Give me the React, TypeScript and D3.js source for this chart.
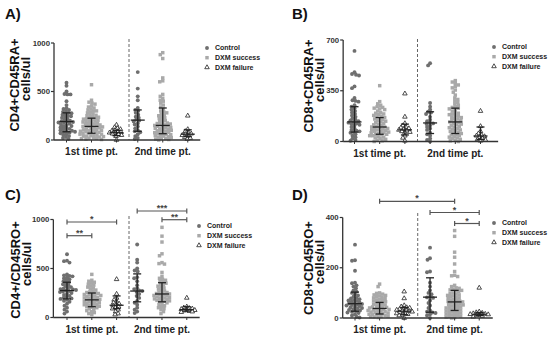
import * as d3 from "d3";

const GROUPS = ["Control", "DXM success", "DXM failure"];
const TIMEPOINTS = ["1st time pt.", "2nd time pt."];

// ---- A) CD4+CD45RA+ ----
const aTicks = [0, 500, 1000];
const aControl1 = [590, 560, 500, 475, 470, 470, 400, 360, 330, 320, 310, 300, 290, 280, 275, 270, 260, 250, 245, 240, 230, 220, 210, 200, 195, 190, 185, 180, 175, 170, 160, 150, 145, 140, 130, 120, 115, 110, 100, 95, 90, 85, 80, 75, 70, 60, 50, 40, 30, 20, 10];
const aSuccess1 = [570, 410, 390, 380, 370, 350, 340, 330, 320, 310, 300, 300, 290, 280, 270, 260, 255, 250, 240, 235, 230, 225, 220, 215, 210, 205, 200, 195, 190, 185, 180, 175, 170, 165, 160, 155, 150, 145, 140, 140, 135, 130, 125, 120, 115, 110, 105, 100, 100, 95, 90, 85, 80, 80, 75, 70, 65, 60, 60, 55, 50, 45, 40, 40, 35, 30, 25, 20, 20, 15, 10, 5];
const aFailure1 = [155, 130, 120, 110, 100, 95, 90, 80, 75, 70, 65, 60, 50, 40, 0];
const aControl2 = [700, 530, 450, 410, 330, 310, 300, 280, 260, 240, 230, 210, 200, 190, 170, 160, 140, 120, 100, 90, 80, 60, 40, 20, 10];
const aSuccess2 = [900, 880, 840, 640, 610, 600, 470, 450, 430, 410, 400, 380, 360, 340, 320, 300, 290, 280, 270, 260, 250, 240, 230, 220, 210, 200, 190, 180, 175, 170, 165, 160, 155, 150, 145, 140, 135, 130, 125, 120, 115, 110, 105, 100, 95, 90, 85, 80, 75, 70, 65, 60, 55, 50, 45, 40, 35, 30, 25, 20, 15, 10, 5, 0];
const aFailure2 = [250, 110, 90, 75, 65, 60, 50, 40, 30, 20, 10];
const aMedian = [190, 140, 75, 205, 150, 60];
const aQ1 = [85, 70, 45, 90, 65, 35];
const aQ3 = [280, 225, 100, 310, 330, 105];

// ---- B) CD8+CD45RA+ ----
const bTicks = [0, 350, 700];
const bControl1 = [625, 478, 465, 460, 455, 380, 368, 300, 285, 280, 275, 250, 240, 230, 220, 210, 200, 190, 180, 170, 160, 150, 145, 140, 135, 130, 125, 120, 115, 110, 100, 90, 80, 75, 70, 65, 60, 50, 40, 30, 20, 10, 5];
const bSuccess1 = [385, 275, 260, 250, 240, 235, 230, 225, 220, 210, 200, 195, 190, 185, 180, 175, 170, 165, 160, 155, 150, 145, 140, 135, 130, 125, 120, 115, 110, 105, 100, 100, 95, 90, 90, 85, 80, 80, 75, 70, 70, 65, 60, 60, 55, 50, 50, 45, 40, 40, 35, 30, 25, 20, 15, 10, 5, 0];
const bFailure1 = [330, 170, 125, 110, 100, 95, 90, 85, 80, 75, 70, 65, 60, 40, 25, 5];
const bControl2 = [540, 525, 265, 240, 220, 205, 200, 190, 170, 150, 140, 130, 125, 120, 110, 100, 90, 80, 60, 50, 40, 20, 10, 0];
const bSuccess2 = [420, 410, 400, 390, 380, 370, 355, 340, 320, 300, 290, 280, 270, 260, 250, 240, 235, 230, 225, 220, 210, 200, 195, 190, 185, 180, 175, 170, 165, 160, 155, 150, 145, 140, 135, 130, 125, 120, 115, 110, 105, 100, 95, 90, 85, 80, 75, 70, 65, 60, 55, 50, 45, 40, 35, 30, 25, 20, 15, 10, 5, 0];
const bFailure2 = [210, 105, 70, 55, 45, 40, 35, 30, 20, 15, 10, 5];
const bMedian = [135, 100, 80, 128, 135, 38];
const bQ1 = [65, 50, 45, 55, 55, 15];
const bQ3 = [240, 165, 120, 205, 230, 100];

// ---- C) CD4+/CD45RO+ ----
const cTicks = [0, 500, 1000];
const cControl1 = [645, 580, 575, 560, 440, 430, 425, 420, 410, 400, 390, 380, 370, 360, 350, 340, 330, 320, 310, 300, 295, 290, 285, 280, 275, 270, 265, 260, 250, 240, 230, 220, 210, 200, 195, 190, 180, 170, 160, 140, 120, 100, 80, 60, 40];
const cSuccess1 = [440, 380, 370, 360, 350, 340, 330, 320, 310, 300, 290, 280, 270, 260, 255, 250, 245, 240, 235, 230, 225, 220, 215, 210, 205, 200, 195, 190, 185, 180, 175, 170, 165, 160, 155, 150, 145, 140, 135, 130, 125, 120, 115, 110, 105, 100, 90, 80, 70, 60, 50, 40, 30];
const cFailure1 = [390, 240, 200, 180, 160, 150, 140, 130, 120, 110, 100, 90, 80, 60, 40, 30];
const cControl2 = [745, 590, 560, 500, 480, 470, 410, 400, 370, 330, 300, 290, 275, 270, 260, 240, 220, 200, 170, 150, 130, 100, 80, 60, 45];
const cSuccess2 = [920, 830, 770, 650, 630, 560, 550, 545, 460, 420, 400, 390, 380, 370, 360, 350, 340, 330, 320, 310, 300, 290, 280, 270, 260, 255, 250, 245, 240, 235, 230, 225, 220, 215, 210, 205, 200, 195, 190, 185, 180, 175, 170, 165, 160, 150, 140, 130, 120, 110, 100, 90, 80, 60, 40];
const cFailure2 = [200, 110, 100, 95, 90, 85, 80, 75, 70, 65, 60, 55];
const cMedian = [275, 180, 125, 270, 240, 80];
const cQ1 = [190, 110, 90, 160, 160, 65];
const cQ3 = [360, 250, 220, 445, 355, 110];
const cSigs = [
  { from: 0, to: 2, label: "*" },
  { from: 0, to: 1, label: "**" },
  { from: 3, to: 5, label: "***" },
  { from: 4, to: 5, label: "**" },
];

// ---- D) CD8+CD45RO+ ----
const dTicks = [0, 200, 400];
const dControl1 = [292, 230, 228, 188, 140, 138, 130, 125, 118, 110, 105, 100, 95, 90, 85, 80, 78, 75, 72, 70, 68, 65, 62, 60, 58, 56, 54, 52, 50, 48, 45, 42, 40, 38, 35, 32, 30, 28, 25, 22, 20, 15, 10, 5, 2];
const dSuccess1 = [135, 125, 100, 98, 95, 92, 90, 88, 85, 82, 80, 78, 75, 72, 70, 68, 65, 62, 60, 58, 55, 52, 50, 48, 46, 44, 42, 40, 38, 36, 35, 34, 32, 30, 28, 26, 25, 24, 22, 20, 18, 16, 15, 14, 12, 10, 8, 6, 5, 4, 2];
const dFailure1 = [105, 78, 50, 45, 42, 40, 38, 35, 32, 30, 28, 27, 25, 22, 20, 18, 15, 12, 10, 0];
const dControl2 = [280, 238, 232, 185, 182, 140, 125, 110, 100, 95, 85, 82, 80, 70, 60, 50, 40, 30, 25, 22, 20, 15, 10, 0];
const dSuccess2 = [348, 325, 262, 242, 215, 185, 170, 168, 165, 130, 125, 120, 118, 115, 112, 110, 108, 105, 100, 98, 95, 92, 90, 88, 85, 82, 80, 78, 75, 72, 70, 68, 66, 64, 62, 60, 58, 56, 54, 52, 50, 48, 46, 44, 42, 40, 38, 36, 34, 32, 30, 28, 26, 24, 22, 20, 18, 16, 14, 12, 10, 8, 6, 4, 2, 0];
const dFailure2 = [120, 25, 22, 20, 18, 16, 15, 14, 12, 10, 8, 5];
const dMedian = [57, 38, 27, 83, 64, 15];
const dQ1 = [27, 16, 13, 23, 30, 10];
const dQ3 = [103, 62, 42, 160, 110, 22];
const dSigs = [
  { from: 1, to: 4, label: "*" },
  { from: 3, to: 5, label: "*" },
  { from: 4, to: 5, label: "*" },
];

type Sig = { from: number; to: number; label: string };
type Layout = {
  letterX: number; letterY: number;
  yBase: number; yTop: number;
  x0: number; step: number; shift2: number; dash: number; axisL: number; axisR: number; dashTop: number;
  titleX: number; titleY: number;
  legendX: number; legendY: number;
  sigY: number[];
};
type PanelSpec = {
  letter: string; title: string; ticks: number[];
  series: number[][]; median: number[]; q1: number[]; q3: number[]; sigs: Sig[];
  layout: Layout;
};

const PANELS: PanelSpec[] = [
  {
    letter: "A)", title: "CD4+CD45RA+", ticks: aTicks,
    series: [aControl1, aSuccess1, aFailure1, aControl2, aSuccess2, aFailure2],
    median: aMedian, q1: aQ1, q3: aQ3, sigs: [],
    layout: { letterX: 5, letterY: 19, yBase: 140, yTop: 43, x0: 66.5, step: 25, shift2: 2.85, dash: 2.5, axisL: -0.5, axisR: 5.35, dashTop: 39, titleX: 14, titleY: 85, legendX: 215, legendY: 48, sigY: [] },
  },
  {
    letter: "B)", title: "CD8+CD45RA+", ticks: bTicks,
    series: [bControl1, bSuccess1, bFailure1, bControl2, bSuccess2, bFailure2],
    median: bMedian, q1: bQ1, q3: bQ3, sigs: [],
    layout: { letterX: 292, letterY: 19, yBase: 141.5, yTop: 40, x0: 354.5, step: 25.2, shift2: 3, dash: 2.5, axisL: -0.45, axisR: 5.7, dashTop: 39, titleX: 308, titleY: 86, legendX: 502, legendY: 47, sigY: [] },
  },
  {
    letter: "C)", title: "CD4+/CD45RO+", ticks: cTicks,
    series: [cControl1, cSuccess1, cFailure1, cControl2, cSuccess2, cFailure2],
    median: cMedian, q1: cQ1, q3: cQ3, sigs: cSigs,
    layout: { letterX: 5, letterY: 200, yBase: 317.5, yTop: 219.5, x0: 67, step: 24.8, shift2: 2.83, dash: 2.5, axisL: -0.55, axisR: 5.35, dashTop: 216, titleX: 15, titleY: 270, legendX: 207, legendY: 226, sigY: [222, 235.7, 211, 219.7] },
  },
  {
    letter: "D)", title: "CD8+CD45RO+", ticks: dTicks,
    series: [dControl1, dSuccess1, dFailure1, dControl2, dSuccess2, dFailure2],
    median: dMedian, q1: dQ1, q3: dQ3, sigs: dSigs,
    layout: { letterX: 292, letterY: 200, yBase: 318, yTop: 217.5, x0: 355, step: 24.6, shift2: 3.05, dash: 2.55, axisL: -0.5, axisR: 5.6, dashTop: 213, titleX: 308, titleY: 268, legendX: 502, legendY: 223, sigY: [201.3, 212.5, 223.5] },
  },
];

const FONT = "Arial, 'Liberation Sans', Helvetica, sans-serif";
const CONTROL_FILL = "#6f6f6f";
const SUCCESS_FILL = "#a9a9a9";
const INK = "#222";

const circlePath = d3.symbol(d3.symbolCircle, 12)()!;
const squarePath = d3.symbol(d3.symbolSquare, 12)()!;
const trianglePath = d3.symbol(d3.symbolTriangle, 9)()!;

function Marker({ kind, x, y }: { kind: number; x: number; y: number }) {
  if (kind === 0) return <path d={circlePath} transform={`translate(${x},${y})`} fill={CONTROL_FILL} />;
  if (kind === 1) return <path d={squarePath} transform={`translate(${x},${y})`} fill={SUCCESS_FILL} />;
  return <path d={trianglePath} transform={`translate(${x},${y})`} fill="#fff" stroke={INK} strokeWidth={0.8} />;
}

// simple beeswarm so points that sit at the same height spread sideways
function swarm(values: number[], y: (v: number) => number, cx: number, dia: number) {
  const pts = values.map((v) => ({ x: cx, y: y(v) })).sort((a, b) => a.y - b.y);
  const placed: { x: number; y: number }[] = [];
  for (const p of pts) {
    let off = 0;
    for (let k = 0; k < 400; k++) {
      const cand = (k % 2 === 0 ? 1 : -1) * Math.ceil(k / 2) * 0.5;
      const ok = placed.every((q) => {
        const dx = q.x - (cx + cand);
        const dy = q.y - p.y;
        return dx * dx + dy * dy >= dia * dia;
      });
      if (ok) { off = cand; break; }
    }
    p.x = cx + off;
    placed.push(p);
  }
  return placed;
}

function Panel({ spec }: { spec: PanelSpec }) {
  const L = spec.layout;
  const yMax = spec.ticks[spec.ticks.length - 1];
  const y = d3.scaleLinear().domain([0, yMax]).range([L.yBase, L.yTop]);
  const x = d3.scaleLinear().domain([0, 1]).range([L.x0, L.x0 + L.step]);
  const slot = (i: number) => (i < 3 ? i : i - 3 + L.shift2);
  const gx = (i: number) => x(slot(i));
  const axisX = x(L.axisL);

  return (
    <g>
      <text x={L.letterX} y={L.letterY} fontSize={15} fontWeight="bold" fill="#111">{spec.letter}</text>

      {/* y title */}
      <text transform={`translate(${L.titleX},${L.titleY}) rotate(-90)`} textAnchor="middle" dy="0.35em" fontSize={13} fontWeight="bold" fill="#111">{spec.title}</text>
      <text transform={`translate(${L.titleX + 11},${L.titleY - 6}) rotate(-90)`} textAnchor="middle" dy="0.35em" fontSize={13} fontWeight="bold" fill="#111">cells/ul</text>

      {/* dashed separator */}
      <line x1={x(L.dash)} x2={x(L.dash)} y1={L.dashTop} y2={L.yBase} stroke="#666" strokeWidth={1} strokeDasharray="3,2" />

      {/* points */}
      {spec.series.map((vals, i) =>
        swarm(vals, y, gx(i), 2.9).map((p, j) => <Marker key={`${i}-${j}`} kind={i % 3} x={p.x} y={p.y} />)
      )}

      {/* median + IQR */}
      {spec.median.map((m, i) => {
        const cx = gx(i);
        return (
          <g key={`eb${i}`} stroke={INK} strokeWidth={1.3}>
            <line x1={cx} x2={cx} y1={y(spec.q1[i])} y2={y(spec.q3[i])} />
            <line x1={cx - 7} x2={cx + 7} y1={y(m)} y2={y(m)} />
            <line x1={cx - 4} x2={cx + 4} y1={y(spec.q1[i])} y2={y(spec.q1[i])} />
            <line x1={cx - 4} x2={cx + 4} y1={y(spec.q3[i])} y2={y(spec.q3[i])} />
          </g>
        );
      })}

      {/* axes */}
      <line x1={axisX} x2={axisX} y1={y(yMax)} y2={L.yBase} stroke="#333" strokeWidth={1.3} />
      <line x1={axisX} x2={x(L.axisR)} y1={L.yBase} y2={L.yBase} stroke="#333" strokeWidth={1.3} />
      {spec.ticks.map((t) => (
        <g key={`t${t}`}>
          <line x1={axisX - 3} x2={axisX} y1={y(t)} y2={y(t)} stroke="#333" strokeWidth={1.2} />
          <text x={axisX - 4} y={y(t)} dy="0.35em" textAnchor="end" fontSize={7.8} fontWeight="bold" fill="#333">{t}</text>
        </g>
      ))}
      {spec.series.map((_, i) => (
        <line key={`xt${i}`} x1={gx(i)} x2={gx(i)} y1={L.yBase} y2={L.yBase + 2.5} stroke="#333" strokeWidth={1} />
      ))}
      {TIMEPOINTS.map((tp, k) => (
        <text key={tp} x={gx(k * 3 + 1)} y={L.yBase + 15} textAnchor="middle" fontSize={10} fontWeight="bold" fill="#222">{tp}</text>
      ))}

      {/* significance brackets */}
      {spec.sigs.map((s, k) => {
        const yy = L.sigY[k];
        const x1 = gx(s.from);
        const x2 = gx(s.to);
        return (
          <g key={`s${k}`}>
            <g stroke="#555" strokeWidth={1.2}>
              <line x1={x1} x2={x2} y1={yy} y2={yy} />
              <line x1={x1} x2={x1} y1={yy - 2.5} y2={yy + 2.5} />
              <line x1={x2} x2={x2} y1={yy - 2.5} y2={yy + 2.5} />
            </g>
            <text x={(x1 + x2) / 2} y={yy} textAnchor="middle" fontSize={9} fontWeight="bold" fill="#444">{s.label}</text>
          </g>
        );
      })}

      {/* legend */}
      {GROUPS.map((g, k) => {
        const ly = L.legendY + k * 9.7;
        return (
          <g key={g}>
            <Marker kind={k} x={L.legendX - 8} y={ly} />
            <text x={L.legendX} y={ly} dy="0.35em" fontSize={7} fontWeight="bold" fill="#222">{g}</text>
          </g>
        );
      })}
    </g>
  );
}

export default function App() {
  return (
    <svg width={550} height={337} style={{ position: "absolute", left: 0, top: 0, background: "#fff" }} fontFamily={FONT}>
      <rect width={550} height={337} fill="#fff" />
      {PANELS.map((p) => <Panel key={p.letter} spec={p} />)}
    </svg>
  );
}
